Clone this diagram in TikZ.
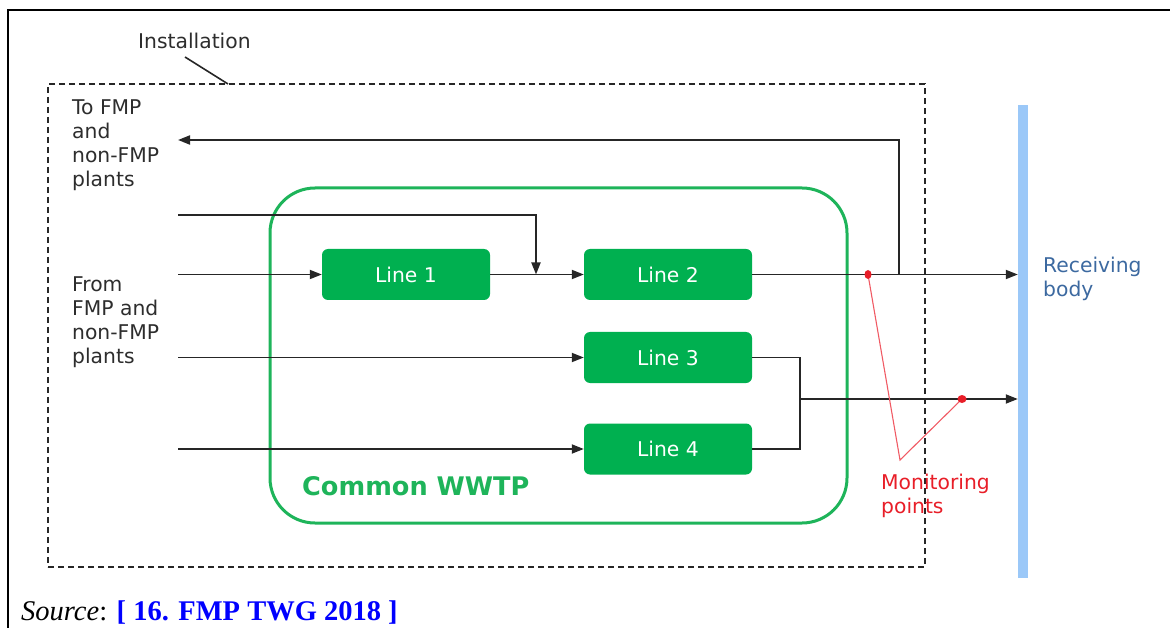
\documentclass[tikz,border=0pt]{standalone}
\usepackage{fontspec}
\setmainfont{DejaVu Sans}
\newfontfamily\srcfont{Liberation Serif}
\usetikzlibrary{arrows.meta}
\definecolor{boxgreen}{RGB}{0,176,80}
\definecolor{wwtpgreen}{RGB}{30,180,90}
\definecolor{txtgray}{RGB}{45,45,45}
\definecolor{rbblue}{RGB}{155,200,248}
\definecolor{rbtext}{RGB}{60,105,160}
\definecolor{mpred}{RGB}{232,30,40}
\definecolor{mpline}{RGB}{240,90,100}
\definecolor{srcblue}{RGB}{0,0,255}
\tikzset{
  txt/.style={anchor=base west, inner sep=0pt, align=left, text=txtgray,
    font=\fontsize{20.3}{24}\selectfont},
  linebox/.style={fill=boxgreen, rounded corners=6pt, minimum width=168pt,
    minimum height=51pt, inner sep=0pt, text=white,
    font=\fontsize{20.3}{24}\selectfont},
  flow/.style={draw=black!85, line width=1.9pt},
  arr/.style={flow, -{Triangle[length=12pt,width=9pt]}},
}
\begin{document}
\begin{tikzpicture}[x=1pt,y=-1pt]
\useasboundingbox (0,0) rectangle (1170,628);
% frame
\draw[line width=2.4pt, black] (7,10) -- (1170,10);
\draw[line width=2.4pt, black] (8,10) -- (8,628);
% installation boundary
\node[draw=black!85, dashed, dash pattern=on 6pt off 4pt, line width=1.6pt,
  minimum width=877pt, minimum height=483pt, inner sep=0pt] (inst) at (486.5,325.5) {};
\node[txt] (instlbl) at (138,49) {Installation};
\coordinate (instpt) at (228,84);
\draw[black!85, line width=1.6pt] (185,57) -- (instpt);
% common WWTP
\node[draw=wwtpgreen, line width=3pt, rounded corners=45pt,
  minimum width=577pt, minimum height=335pt, inner sep=0pt] (wwtp) at (558.5,355.5) {};
\node[anchor=base west, inner sep=0pt, text=wwtpgreen,
  font=\fontsize{25.6}{28}\selectfont\bfseries] (wwtplbl) at (302,495) {Common WWTP};
% receiving body
\node[fill=rbblue, minimum width=10pt, minimum height=473pt, inner sep=0pt] (rb) at (1023,341.5) {};
\node[txt, text=rbtext] (rblbl) at (1043,297) {Receiving\\body};
% texts left
\node[txt] (tolbl) at (72,187) {To FMP\\and\\non-FMP\\plants};
\node[txt] (fromlbl) at (72,363) {From\\FMP and\\non-FMP\\plants};
% line boxes
\node[linebox] (L1) at (406,274.5) {Line 1};
\node[linebox] (L2) at (668,274.5) {Line 2};
\node[linebox] (L3) at (668,357.5) {Line 3};
\node[linebox] (L4) at (668,449) {Line 4};
% coordinates
\coordinate (in1) at (178,215);
\coordinate (in2) at (178,274.5);
\coordinate (in3) at (178,357.5);
\coordinate (in4) at (178,449);
\coordinate (outTo) at (178,140);
\coordinate (merge) at (536,274.5);
\coordinate (br) at (899,274.5);
\coordinate (m) at (800,399);
% connectors
\draw[arr] (in1) -| (merge);
\draw[arr] (in2) -- (L1.west);
\draw[arr] (L1.east) -- (L2.west);
\draw[arr] (L2.east) -- (L2.east -| rb.west);
\draw[arr] (br) |- (outTo);
\draw[arr] (in3) -- (L3.west);
\draw[arr] (in4) -- (L4.west);
\draw[flow] (L3.east) -| (m) |- (L4.east);
\draw[arr] (m) -- (m -| rb.west);
% monitoring points
\coordinate (mp1) at (868,274.5);
\coordinate (mp2) at (962,399);
\coordinate (mpv) at (900,460);
\draw[mpline, line width=1.1pt] (mp1) -- (mpv) -- (mp2);
\fill[mpred] (mp1) ellipse[x radius=3.5pt, y radius=4.5pt];
\fill[mpred] (mp2) ellipse[x radius=4.5pt, y radius=4pt];
\node[txt, text=mpred] (mplbl) at (881,513) {Monitoring\\points};
% source
\node[anchor=base west, inner sep=0pt, font=\srcfont\fontsize{28.5}{30}\selectfont] (src) at (21,620)
  {\textit{Source}: \textcolor{srcblue}{\textbf{[ 16. FMP TWG 2018 ]}}};
\end{tikzpicture}
\end{document}
